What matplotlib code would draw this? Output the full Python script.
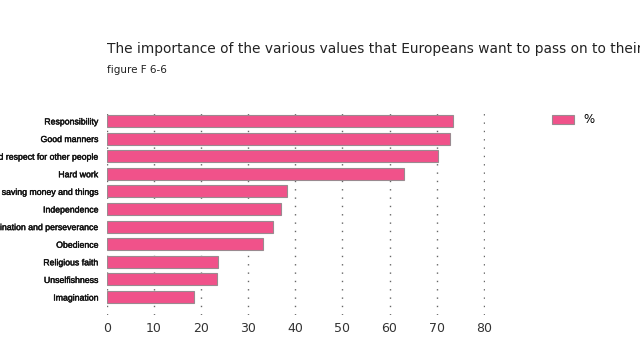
import matplotlib.pyplot as plt
import matplotlib.patheffects as pe

categories = [
    "Responsibility",
    "Good manners",
    "Tolerance and respect for other people",
    "Hard work",
    "Thrift, saving money and things",
    "Independence",
    "Determination and perseverance",
    "Obedience",
    "Religious faith",
    "Unselfishness",
    "Imagination",
]
values = [73.4, 72.8, 70.3, 63.0, 38.3, 37.0, 35.3, 33.2, 23.5, 23.3, 18.4]
xticks = [0, 10, 20, 30, 40, 50, 60, 70, 80]

BAR = "#F0528A"

fig = plt.figure(figsize=(6.4, 3.6), dpi=100)
ax = fig.add_axes([0.167, 0.125, 0.591, 0.564])

ypos = list(range(len(categories)))
ax.barh(ypos, values, height=0.68, color=BAR, edgecolor="#9a8a90",
        linewidth=0.8, label="%", zorder=3)
ax.set_ylim(11.02, -0.51)
ax.set_xlim(0, 80.3)

ax.set_yticks(ypos)
labels = ax.set_yticklabels(categories, fontsize=6.3, color="#111111",
                            family="Liberation Sans")
# the source labels look slightly heavier than regular weight
for t in labels:
    t.set_path_effects([pe.withStroke(linewidth=0.3, foreground="#111111")])
ax.set_xticks(xticks)
ax.set_xticklabels([str(t) for t in xticks], fontsize=9, color="#333333")
ax.tick_params(length=0)
ax.tick_params(axis="y", pad=6)
ax.tick_params(axis="x", pad=5)

for s in ax.spines.values():
    s.set_visible(False)
ax.xaxis.grid(True, color="#666666", linestyle=(0, (1, 5)), linewidth=1.0,
              zorder=0)
ax.set_axisbelow(True)

fig.text(0.167, 0.865, "The importance of the various values that Europeans "
         "want to pass on to their", fontsize=9.9, color="#222222",
         va="center")
fig.text(0.167, 0.805, "figure F 6-6", fontsize=7.5, color="#222222",
         va="center")

ax.legend(loc="upper left", bbox_to_anchor=(1.15, 1.045), frameon=False,
          fontsize=8.5, handlelength=1.8, handleheight=0.8)

fig.savefig("out.png", dpi=100)
